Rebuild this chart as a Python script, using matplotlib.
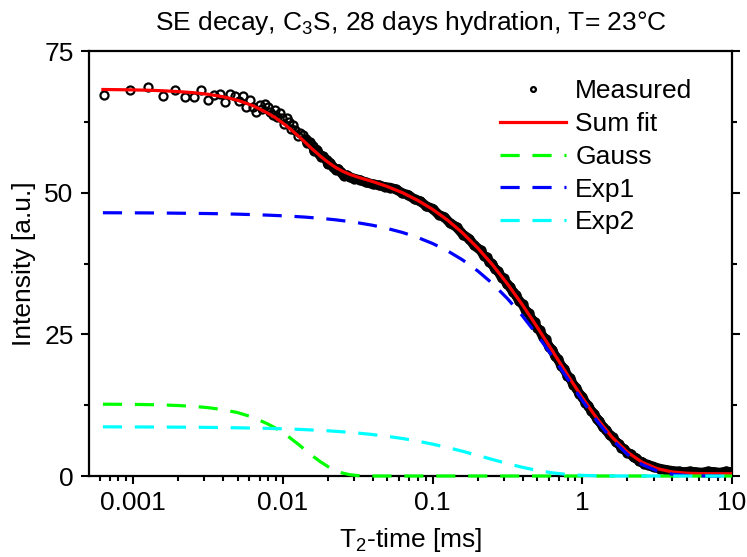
import numpy as np
import matplotlib.pyplot as plt
from matplotlib.ticker import LogLocator, NullFormatter, MultipleLocator

plt.rcParams['font.family'] = ['Liberation Sans', 'DejaVu Sans']
plt.rcParams['mathtext.fontset'] = 'custom'
plt.rcParams['mathtext.rm'] = 'Liberation Sans'
plt.rcParams['mathtext.default'] = 'regular'

# measured echo decay (T2-time in ms, intensity in a.u.)
meas_x = [0.00064, 0.00095, 0.00127, 0.00159, 0.00191, 0.00223, 0.00254, 0.00286, 0.00318, 0.00350,
          0.00382, 0.00413, 0.00445, 0.00477, 0.00509, 0.00540, 0.00572, 0.00604, 0.00636, 0.00668,
          0.00700, 0.00731, 0.00763, 0.00795, 0.00827, 0.00858, 0.00891, 0.00922, 0.00954, 0.00986,
          0.0102, 0.0106, 0.0110, 0.0114, 0.0117, 0.0121, 0.0127, 0.0131, 0.0137, 0.0143,
          0.0146, 0.0152, 0.0159, 0.0162, 0.0169, 0.0175, 0.0181, 0.0187, 0.0197, 0.0200,
          0.0207, 0.0216, 0.0226, 0.0235, 0.0245, 0.0255, 0.0267, 0.0280,
          0.030, 0.033, 0.036, 0.040, 0.044, 0.048, 0.052, 0.057, 0.063, 0.069,
          0.076, 0.083, 0.091, 0.10, 0.11, 0.12, 0.13, 0.145, 0.16, 0.175,
          0.19, 0.21, 0.22, 0.23, 0.24, 0.25, 0.26, 0.275, 0.29, 0.30,
          0.315, 0.33, 0.345, 0.36, 0.38, 0.40, 0.42, 0.44, 0.46, 0.48,
          0.50, 0.52, 0.545, 0.57, 0.60, 0.63, 0.66, 0.69, 0.725, 0.76,
          0.795, 0.83, 0.87, 0.91, 0.955, 1.0, 1.05, 1.1, 1.15, 1.2,
          1.25, 1.3, 1.375, 1.45, 1.525, 1.6, 1.675, 1.75, 1.825, 1.9,
          2.0, 2.1, 2.2, 2.3, 2.4, 2.5, 2.6, 2.75, 2.9, 3.0,
          3.3, 3.6, 4.0, 4.4, 4.8, 5.2, 5.7, 6.3, 6.9, 7.6,
          8.3, 9.1, 10.0]
meas_y = [67.2, 68.1, 68.6, 67.1, 68.1, 66.9, 66.9, 68.1, 66.3, 67.3,
          67.5, 66.0, 67.5, 67.0, 66.2, 67.1, 65.1, 66.4, 65.2, 64.3,
          65.5, 64.8, 65.6, 65.1, 64.2, 63.7, 64.6, 63.4, 64.0, 63.2,
          62.2, 63.1, 62.4, 61.2, 61.9, 61.0, 60.0, 60.6, 60.2, 59.4,
          58.8, 58.9, 58.2, 57.4, 57.6, 56.9, 56.3, 56.4, 55.7, 55.0,
          55.3, 54.6, 54.0, 54.2, 53.6, 53.0, 53.1, 52.7,
          52.5, 52.2, 51.8, 51.5, 51.3, 51.0, 50.9, 50.6, 49.9, 49.6,
          48.8, 48.5, 47.6, 47.2, 46.1, 45.7, 44.7, 43.9, 42.6, 41.9,
          40.7, 39.8, 38.9, 38.6, 37.8, 37.5, 36.6, 36.1, 35.0, 34.9,
          33.8, 33.4, 32.4, 32.0, 30.8, 30.3, 29.1, 28.7, 27.6, 27.2,
          26.1, 25.7, 24.6, 24.1, 22.8, 22.3, 21.1, 20.6, 19.4, 18.9,
          17.7, 17.3, 16.1, 15.6, 14.5, 14.0, 12.9, 12.4, 11.4, 11.0,
          10.1, 9.7, 8.6, 8.1, 7.2, 6.8, 6.0, 5.7, 5.0, 4.8,
          4.1, 3.9, 3.3, 3.1, 2.6, 2.5, 2.2, 2.0, 1.7, 1.6,
          1.3, 1.1, 0.9, 0.8, 0.7, 0.8, 0.7, 0.6, 0.8, 0.7,
          0.6, 0.8, 0.7]

# fitted components on a common time grid
fit_x = [0.00063, 0.0008, 0.001, 0.00126, 0.00158, 0.002, 0.00251, 0.00316, 0.00398, 0.005,
         0.0063, 0.0079, 0.0089, 0.01, 0.0112, 0.0126, 0.0141, 0.0158, 0.0178, 0.02,
         0.0224, 0.0251, 0.0282, 0.0316, 0.0398, 0.05, 0.063, 0.079, 0.1, 0.126,
         0.158, 0.2, 0.251, 0.316, 0.398, 0.5, 0.63, 0.79, 1.0, 1.26,
         1.58, 2.0, 2.51, 3.16, 3.98, 5.0, 6.3, 7.9, 10.0]
sum_fit = [68.21, 68.18, 68.14, 68.08, 67.99, 67.84, 67.66, 67.37, 66.94, 66.31,
           65.37, 64.07, 63.25, 62.30, 61.26, 60.09, 58.90, 57.66, 56.47, 55.40,
           54.50, 53.78, 53.21, 52.76, 51.97, 51.08, 50.00, 48.70, 47.07, 45.16,
           42.95, 40.26, 37.30, 33.93, 30.22, 26.28, 22.12, 18.00, 13.83, 10.07,
           6.86, 4.22, 2.42, 1.30, 0.72, 0.49, 0.42, 0.40, 0.40]
gauss = [12.67, 12.66, 12.64, 12.60, 12.54, 12.44, 12.30, 12.07, 11.72, 11.19,
         10.38, 9.22, 8.50, 7.65, 6.72, 5.68, 4.63, 3.55, 2.54, 1.67,
         0.99, 0.52, 0.22, 0.08, 0.0, 0.0, 0.0, 0.0, 0.0, 0.0,
         0.0, 0.0, 0.0, 0.0, 0.0, 0.0, 0.0, 0.0, 0.0, 0.0,
         0.0, 0.0, 0.0, 0.0, 0.0, 0.0, 0.0, 0.0, 0.0]
exp1 = [46.46, 46.45, 46.44, 46.43, 46.41, 46.38, 46.35, 46.32, 46.27, 46.21,
        46.13, 46.04, 45.98, 45.92, 45.85, 45.77, 45.69, 45.59, 45.48, 45.35,
        45.22, 45.06, 44.89, 44.70, 44.25, 43.68, 42.98, 42.13, 41.04, 39.73,
        38.17, 36.21, 33.98, 31.33, 28.28, 24.89, 21.16, 17.32, 13.32, 9.63,
        6.45, 3.82, 2.02, 0.90, 0.32, 0.09, 0.02, 0.0, 0.0]
exp2 = [8.68, 8.67, 8.66, 8.65, 8.64, 8.62, 8.61, 8.58, 8.55, 8.51,
        8.46, 8.41, 8.37, 8.33, 8.29, 8.24, 8.18, 8.12, 8.05, 7.98,
        7.89, 7.80, 7.70, 7.58, 7.32, 7.00, 6.62, 6.17, 5.63, 5.03,
        4.38, 3.65, 2.92, 2.20, 1.54, 0.99, 0.56, 0.28, 0.11, 0.04,
        0.01, 0.0, 0.0, 0.0, 0.0, 0.0, 0.0, 0.0, 0.0]

fs = 19

fig = plt.figure(figsize=(7.47, 5.57), dpi=100)
ax = fig.add_axes([0.119, 0.1454, 0.861, 0.763])

mx = np.array(meas_x)
my = np.array(meas_y)
dense = mx >= 0.014
# dense part of the record: points overlap into a solid band
ax.plot(mx[dense], my[dense], color='black', lw=7, zorder=1, solid_capstyle='round')
ax.plot(mx, my, ls='none', marker='o', ms=5.8, mew=1.6, mfc='none', mec='black',
        label='Measured', zorder=2)

dash = (0, (6, 4))
ax.plot(fit_x, sum_fit, color='#ff0000', lw=2.3, label='Sum fit', zorder=3)
ax.plot(fit_x, gauss, color='#00ff00', lw=2.3, ls=dash, label='Gauss', zorder=4, clip_on=False)
ax.plot(fit_x, exp1, color='#0000ff', lw=2.3, ls=dash, label='Exp1', zorder=5, clip_on=False)
ax.plot(fit_x, exp2, color='#00ffff', lw=2.3, ls=dash, label='Exp2', zorder=6, clip_on=False)

ax.set_xscale('log')
ax.set_xlim(5.08e-4, 10)
ax.set_ylim(0, 75)

ax.set_xticks([0.001, 0.01, 0.1, 1, 10])
ax.set_xticklabels(['0.001', '0.01', '0.1', '1', '10'])
ax.xaxis.set_minor_locator(LogLocator(base=10, subs=np.arange(2, 10), numticks=20))
ax.xaxis.set_minor_formatter(NullFormatter())
ax.set_yticks([0, 25, 50, 75])
ax.yaxis.set_minor_locator(MultipleLocator(12.5))

ax.tick_params(which='both', direction='out', width=1.5, labelsize=fs,
               top=False, right=True)
ax.tick_params(which='major', length=6, pad=5)
ax.tick_params(which='minor', length=3.5)
for sp in ax.spines.values():
    sp.set_linewidth(1.6)

ax.set_xlabel('T$_2$-time [ms]', fontsize=fs, labelpad=8)
ax.set_ylabel('Intensity [a.u.]', fontsize=fs, labelpad=6)
ax.set_title('SE decay, C$_3$S, 28 days hydration, T= 23°C', fontsize=fs, pad=15)

ax.legend(loc='upper right', bbox_to_anchor=(0.955, 0.958), borderaxespad=0,
          frameon=False, fontsize=fs, handlelength=2.5, labelspacing=0.33,
          markerscale=0.6, handletextpad=0.35)

fig.savefig('out.png', dpi=100)
